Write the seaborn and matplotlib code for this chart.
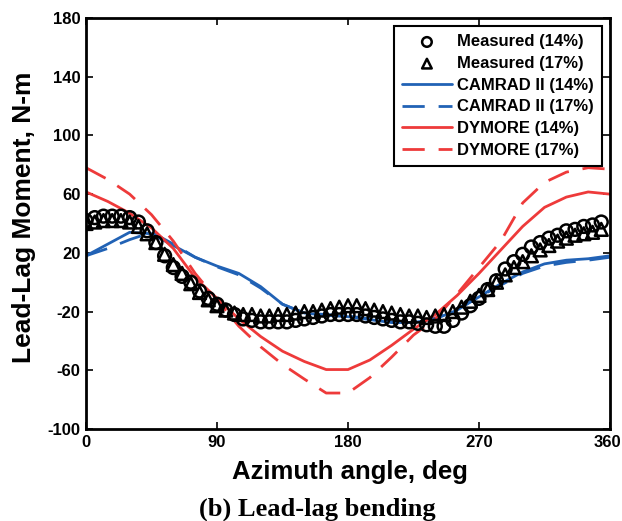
import numpy as np
import pandas as pd
import matplotlib
matplotlib.use("Agg")
import matplotlib.pyplot as plt
import matplotlib.transforms as mtransforms
import seaborn as sns

# ---------------- data ----------------
model_az = list(range(0, 361, 15))
camrad_14 = [18, 26, 34, 33, 25, 17, 11, 6, -3, -15, -21, -22.5, -23.5, -25.5, -27.5,
             -27.5, -25, -19, -10, -1, 7, 12.5, 15, 16, 18]
camrad_17 = [18, 23, 29, 34, 26, 17, 10.5, 5, -4, -15, -21, -22, -23, -25, -27,
             -27, -24.5, -18, -10, -2, 6, 11, 13.5, 15, 17]
dymore_14 = [61.5, 55, 47, 37, 23, 3, -11, -25, -37, -47, -54, -59.5, -59.5, -53, -43,
             -32, -22, -9, 6, 22, 38, 51, 58, 61.5, 60]
dymore_17 = [78, 70, 60, 46, 28, 6, -12, -30, -44, -56, -66, -75.5, -75.5, -65, -51,
             -36, -25, -8, 10, 28, 54, 68, 75, 78, 77]

meas_az = list(range(0, 355, 6))
meas_14 = [42, 44, 45, 45, 45, 44, 41, 35, 27, 18, 10, 4, 0, -6, -11, -15, -19, -22, -25, -26,
           -27, -27, -27, -27, -26, -25, -24, -23, -22, -22, -22, -22, -23, -24, -25, -26,
           -27, -27, -28, -29, -30, -30, -26, -21, -16, -11, -5, 1, 9, 14, 19, 24, 27, 30,
           32, 35, 36, 38, 39, 41]
meas_17 = [40, 41, 42, 42, 42, 41, 38, 33, 27, 19, 12, 6, -1, -7, -12, -16, -19, -21, -22, -22,
           -23, -23, -22, -22, -21, -20, -20, -19, -18, -17, -16, -16, -18, -19, -20, -21,
           -22, -23, -23, -24, -23, -22, -20, -17, -13, -9, -5, 0, 5, 10, 14, 18, 22, 25,
           28, 30, 32, 33, 34, 36]

x_ticks = [0, 90, 180, 270, 360]
y_ticks = [-100, -60, -20, 20, 60, 100, 140, 180]

BLUE = "#2162B5"
RED = "#EE3A3A"

# ---------------- style ----------------
sns.set_theme(style="ticks")
plt.rcParams["font.family"] = ["Liberation Sans", "DejaVu Sans"]
plt.rcParams["font.weight"] = "bold"
plt.rcParams["axes.unicode_minus"] = False
plt.rcParams["text.color"] = "black"
plt.rcParams["axes.labelcolor"] = "black"
plt.rcParams["xtick.color"] = "black"
plt.rcParams["ytick.color"] = "black"

fig = plt.figure(figsize=(6.22, 5.21), dpi=100)
ax = fig.add_axes([86 / 622, 1 - 429 / 521, (610 - 86) / 622, (429 - 18) / 521])

mdf14 = pd.DataFrame({"az": meas_az, "val": meas_14})
mdf17 = pd.DataFrame({"az": meas_az, "val": meas_17})

sns.scatterplot(data=mdf14, x="az", y="val", ax=ax, marker="o", s=85,
                facecolor="none", edgecolor="black", linewidth=1.8,
                label="Measured (14%)", zorder=3)
sns.scatterplot(data=mdf17, x="az", y="val", ax=ax, marker="^", s=85,
                facecolor="none", edgecolor="black", linewidth=1.8,
                label="Measured (17%)", zorder=3)

dash = (8, 5)
sns.lineplot(x=model_az, y=camrad_14, ax=ax, color=BLUE, lw=2.0, label="CAMRAD II (14%)")
sns.lineplot(x=model_az, y=camrad_17, ax=ax, color=BLUE, lw=2.0, label="CAMRAD II (17%)")
ax.lines[-1].set_dashes(dash)
sns.lineplot(x=model_az, y=dymore_14, ax=ax, color=RED, lw=2.0, label="DYMORE (14%)")
sns.lineplot(x=model_az, y=dymore_17, ax=ax, color=RED, lw=2.0, label="DYMORE (17%)")
ax.lines[-1].set_dashes(dash)

ax.set_xlim(0, 360)
ax.set_ylim(-100, 180)
ax.set_xticks(x_ticks)
ax.set_yticks(y_ticks)
ax.tick_params(axis="both", which="both", direction="in", length=5, width=1.2,
               top=True, right=True, labelsize=12, pad=4, colors="black")
for lab in ax.get_xticklabels() + ax.get_yticklabels():
    lab.set_fontweight("bold")
# nudge last x tick label so it fits inside the canvas
last = ax.get_xticklabels()[-1]
last.set_transform(last.get_transform() +
                   mtransforms.ScaledTranslation(-3 / 100, 0, fig.dpi_scale_trans))
for sp in ax.spines.values():
    sp.set_linewidth(2)
    sp.set_color("black")
    sp.set_visible(True)

ax.set_xlabel("Azimuth angle, deg", fontsize=18.5, fontweight="bold", color="black")
ax.xaxis.label.set_va("baseline")
ax.xaxis.set_label_coords(350 / 622, 1 - 479 / 521, transform=fig.transFigure)
ax.set_ylabel("Lead-Lag Moment, N-m", fontsize=19, fontweight="bold", color="black")
ax.yaxis.label.set_va("center")
ax.yaxis.set_label_coords(24 / 622, 1 - 217 / 521, transform=fig.transFigure)

handles, labels = ax.get_legend_handles_labels()
leg = ax.legend(handles, labels, loc="upper right",
                bbox_to_anchor=(602 / 622, 1 - 26 / 521), bbox_transform=fig.transFigure,
                borderaxespad=0, frameon=True, fancybox=False, markerscale=0.75,
                handlelength=3.0, labelspacing=0.4, handletextpad=0.3,
                borderpad=0.5, prop={"weight": "bold", "size": 12})
leg.get_frame().set_edgecolor("black")
leg.get_frame().set_linewidth(1.5)
leg.get_frame().set_alpha(1)
for t in leg.get_texts():
    t.set_color("black")

fig.text(317 / 622, 1 - 516 / 521, "(b) Lead-lag bending", ha="center", va="baseline",
         fontsize=19, fontweight="bold", color="black",
         family=["Liberation Serif", "DejaVu Serif"])

fig.savefig("out.png", dpi=100)
